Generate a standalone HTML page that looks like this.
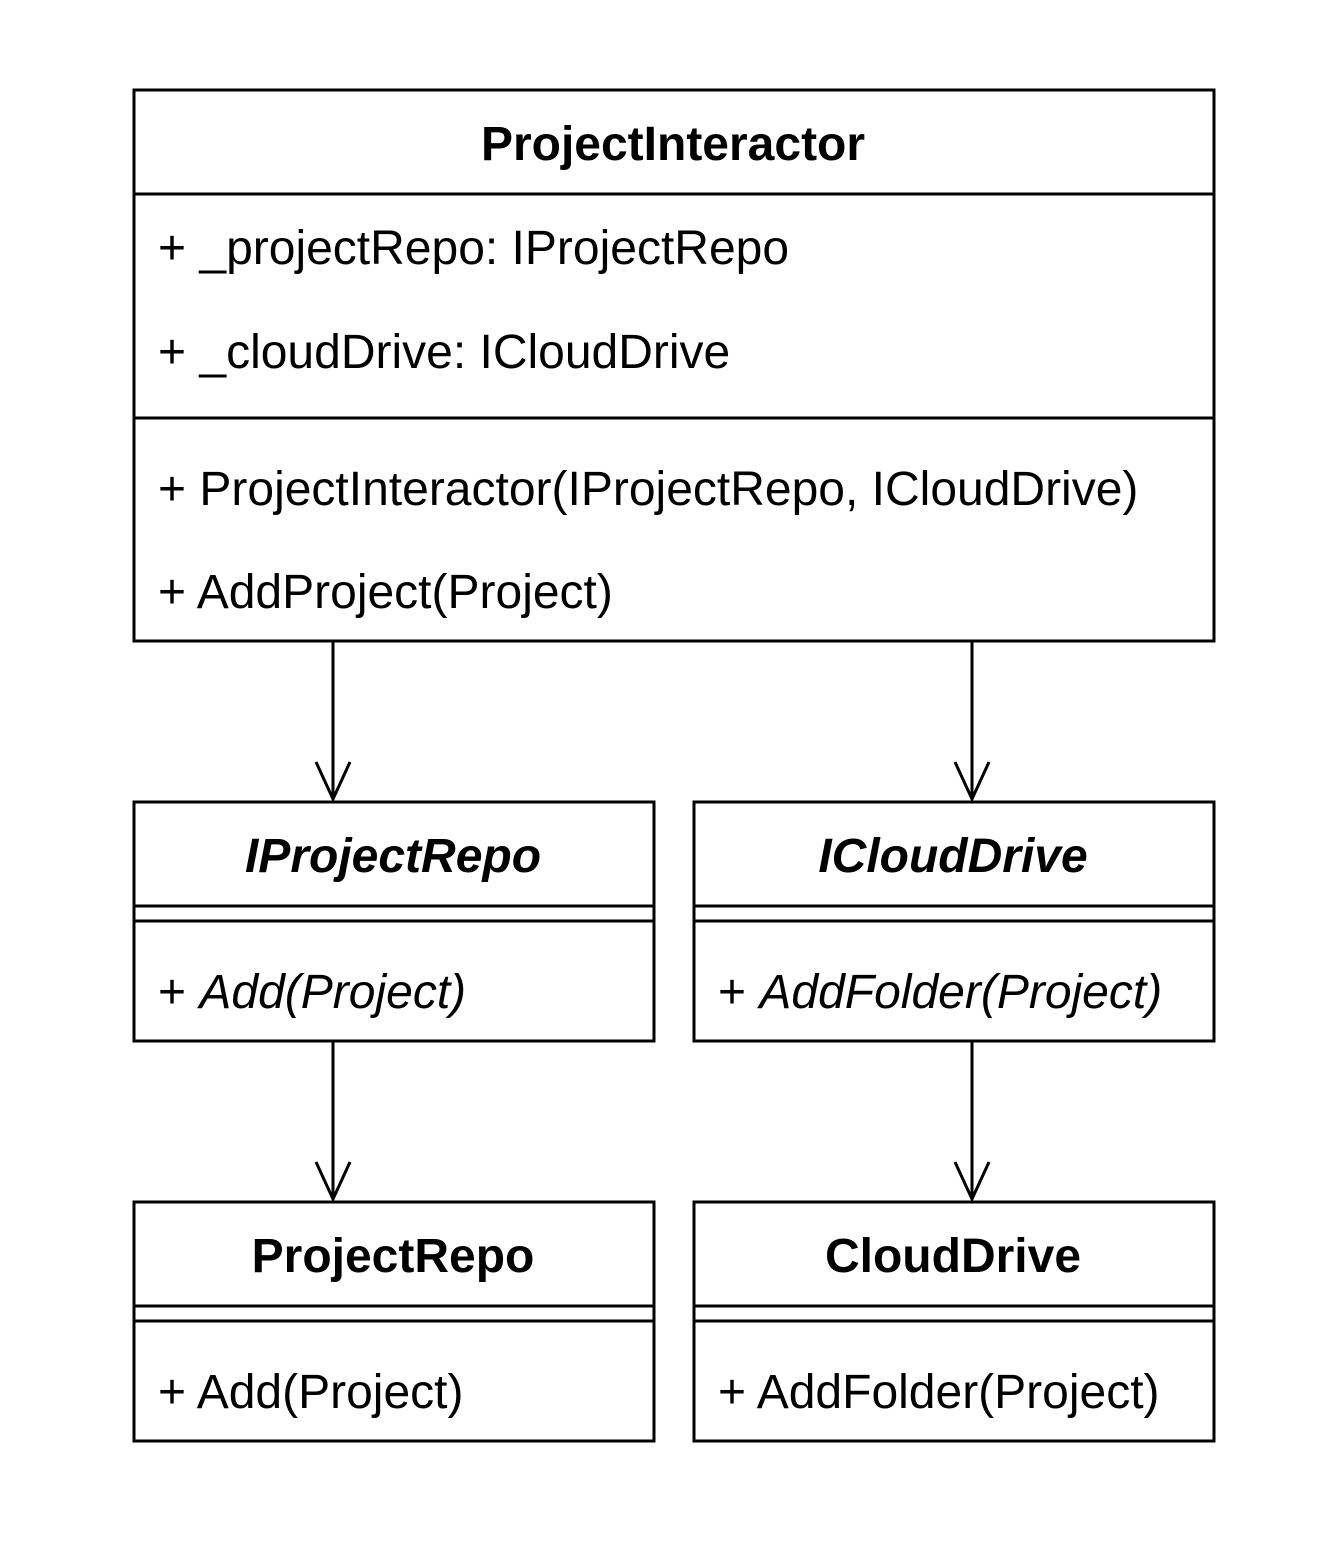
<!DOCTYPE html>
<html><head><meta charset="utf-8"><style>
html,body{margin:0;padding:0;background:#fff;}
svg{display:block;}
text{font-family:"Liberation Sans",Arial,sans-serif;font-size:48px;fill:#000;}
.b{font-weight:bold;}
.i{font-style:italic;}
</style></head><body>
<svg width="1332" height="1564" viewBox="0 0 1332 1564" xmlns="http://www.w3.org/2000/svg">
<g fill="none" stroke="#000" stroke-width="3">
<rect x="134" y="90" width="1080" height="551"/>
<line x1="134" y1="194" x2="1214" y2="194"/>
<line x1="134" y1="418" x2="1214" y2="418"/>

<rect x="134" y="802" width="520" height="239"/>
<line x1="134" y1="906" x2="654" y2="906"/>
<line x1="134" y1="921" x2="654" y2="921"/>
<rect x="694" y="802" width="520" height="239"/>
<line x1="694" y1="906" x2="1214" y2="906"/>
<line x1="694" y1="921" x2="1214" y2="921"/>

<rect x="134" y="1202" width="520" height="239"/>
<line x1="134" y1="1306" x2="654" y2="1306"/>
<line x1="134" y1="1321" x2="654" y2="1321"/>
<rect x="694" y="1202" width="520" height="239"/>
<line x1="694" y1="1306" x2="1214" y2="1306"/>
<line x1="694" y1="1321" x2="1214" y2="1321"/>

<line x1="333" y1="641" x2="333" y2="799"/>
<polyline points="316,762 333,799 350,762"/>
<line x1="972" y1="641" x2="972" y2="799"/>
<polyline points="955,762 972,799 989,762"/>
<line x1="333" y1="1041" x2="333" y2="1199"/>
<polyline points="316,1162 333,1199 350,1162"/>
<line x1="972" y1="1041" x2="972" y2="1199"/>
<polyline points="955,1162 972,1199 989,1162"/>
</g>
<text class="b" x="673" y="160" text-anchor="middle">ProjectInteractor</text>
<text x="158" y="264">+ _projectRepo: IProjectRepo</text>
<text x="158" y="368">+ _cloudDrive: ICloudDrive</text>
<text x="158" y="505">+ ProjectInteractor(IProjectRepo, ICloudDrive)</text>
<text x="158" y="608">+ AddProject(Project)</text>

<text class="b i" x="393" y="872" text-anchor="middle">IProjectRepo</text>
<text x="158" y="1008">+ <tspan class="i">Add(Project)</tspan></text>
<text class="b i" x="953" y="872" text-anchor="middle">ICloudDrive</text>
<text x="718" y="1008">+ <tspan class="i">AddFolder(Project)</tspan></text>

<text class="b" x="393" y="1272" text-anchor="middle">ProjectRepo</text>
<text x="158" y="1408">+ Add(Project)</text>
<text class="b" x="953" y="1272" text-anchor="middle">CloudDrive</text>
<text x="718" y="1408">+ AddFolder(Project)</text>
</svg>
</body></html>
